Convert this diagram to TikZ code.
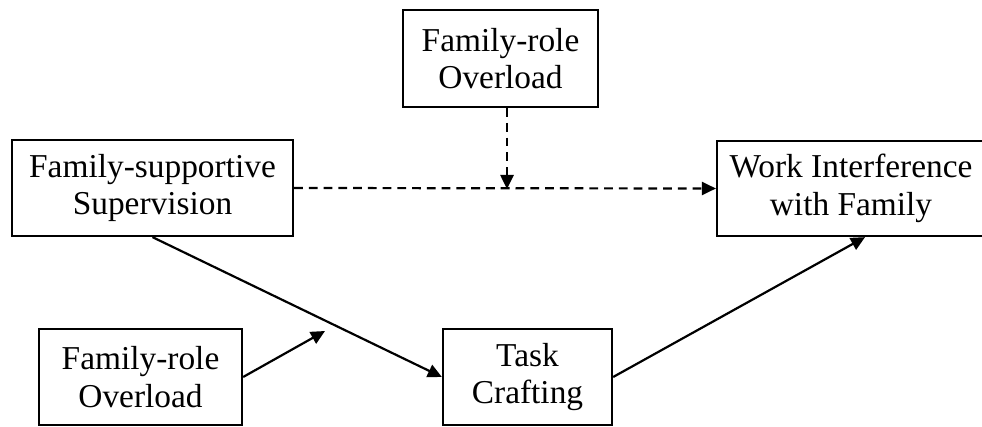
\documentclass[tikz,border=0pt]{standalone}
\usepackage{fontspec}
\setmainfont{Liberation Serif}
\usetikzlibrary{arrows.meta,calc}

\tikzset{
  var/.style={draw, line width=1.3pt, align=center, inner sep=0pt,
    minimum height=1.92cm, font=\fontsize{19}{21.5}\selectfont},
  path/.style={line width=1.25pt, -{Triangle[length=8pt,width=7.5pt]}},
  moder/.style={path, dash pattern=on 5pt off 3.4pt}
}

\begin{document}
\begin{tikzpicture}[x=0.02cm,y=-0.02cm]
\useasboundingbox (0,0) rectangle (982,426);
\node [var, minimum width=3.9cm, minimum height=1.94cm] (fro1) at (500.5,58.5) {Family-role\\Overload};
\node [var, minimum width=5.62cm] (fss) at (152.5,188) {Family-supportive\\Supervision};
\node [var, minimum width=5.36cm, minimum height=1.9cm] (wif) at (851,188.5) {Work Interference\\with Family};
\node [var, minimum width=4.06cm] (fro2) at (140.5,377) {Family-role\\Overload};
\node [var, minimum width=3.38cm] (tc) at (527.5,377) {Task\\Crafting};
\coordinate (m1) at (507,189);
\coordinate (m2) at (325,331);
\draw [moder] (fss.east) -- (wif.west);
\draw [moder] (fro1.south -| m1) -- (m1);
\draw [path] (fss.south) -- (tc.west);
\draw [path] (fro2.east) -- (m2);
\draw [path] (tc.east) -- ([xshift=14*0.02cm]wif.south);
\end{tikzpicture}
\end{document}
